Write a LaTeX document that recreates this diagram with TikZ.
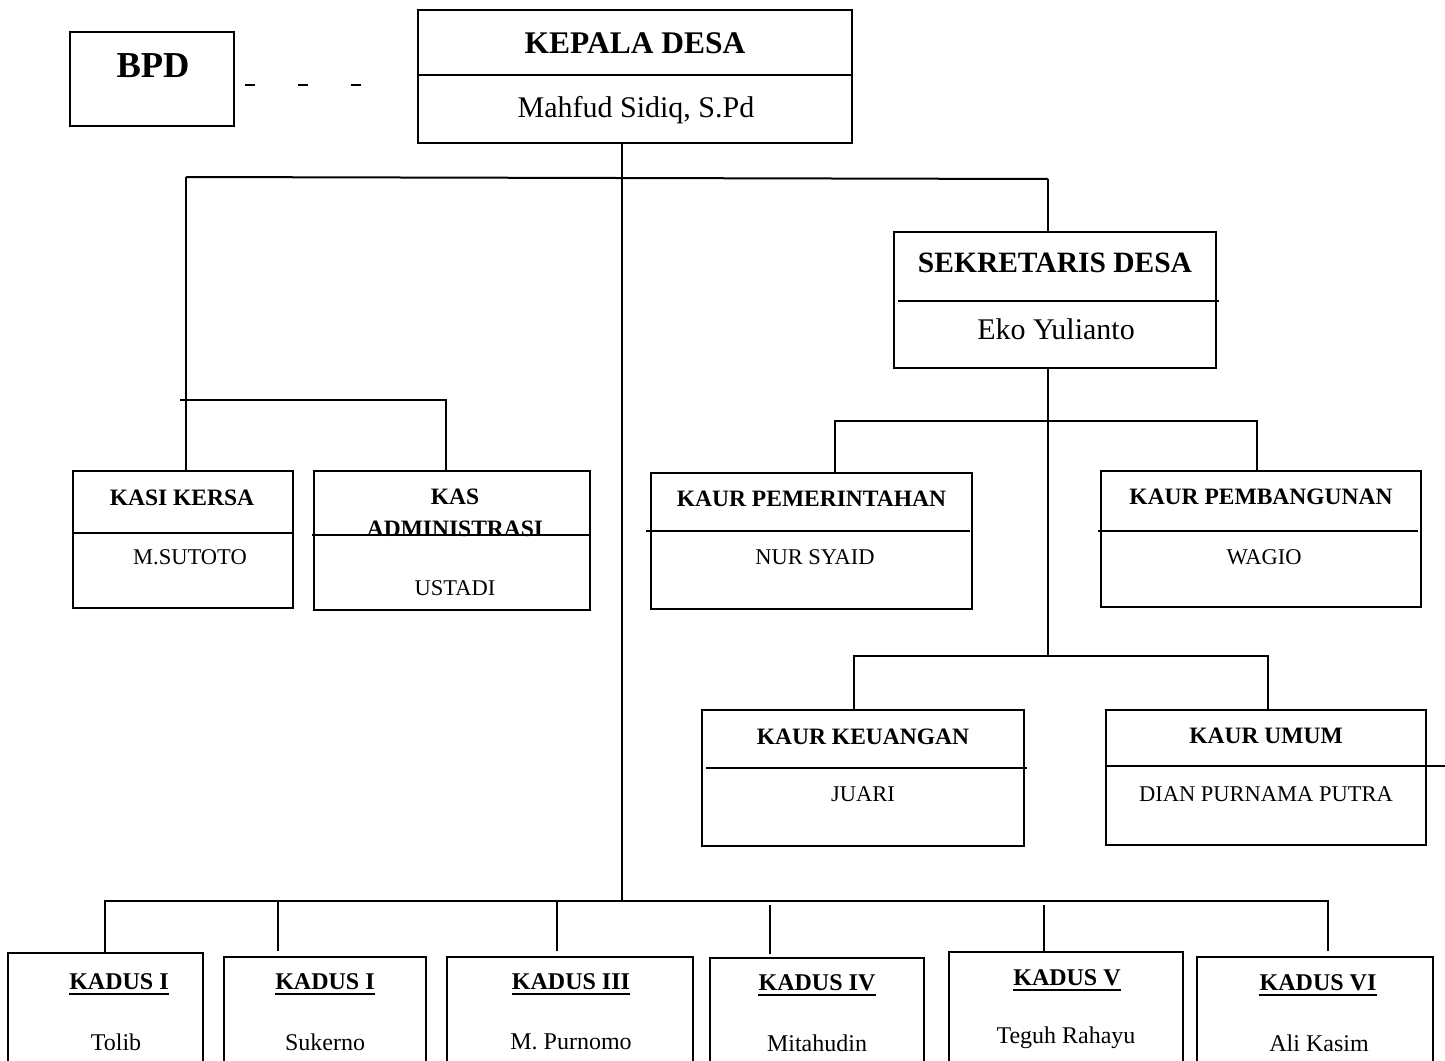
\documentclass[tikz,border=0pt]{standalone}
\usepackage{fontspec}
\setmainfont{Liberation Serif}
\tikzset{
  box/.style={draw, line width=2pt, rectangle, inner sep=0pt},
  conn/.style={line width=2pt},
  divline/.style={line width=2pt},
  bigttl/.style={inner sep=0pt, font=\bfseries\fontsize{31.5}{34}\selectfont},
  bigname/.style={inner sep=0pt, font=\fontsize{30}{33}\selectfont},
  midttl/.style={inner sep=0pt, font=\bfseries\fontsize{29.5}{32}\selectfont},
  midname/.style={inner sep=0pt, font=\fontsize{30}{33}\selectfont},
  ttl/.style={inner sep=0pt, font=\bfseries\fontsize{23.5}{26}\selectfont},
  nm/.style={inner sep=0pt, font=\fontsize{22.5}{25}\selectfont},
  kttl/.style={inner sep=0pt, font=\bfseries\fontsize{24}{27}\selectfont},
  knm/.style={inner sep=0pt, font=\fontsize{24}{27}\selectfont},
}
\begin{document}
\begin{tikzpicture}[x=1pt,y=-1pt]
\useasboundingbox (0,0) rectangle (1445,1060);
\clip (0,0) rectangle (1445,1060);

% ---- boxes ----
\node[box, minimum width=164pt, minimum height=94pt] (bpd) at (152,79) {};
\node[box, minimum width=434pt, minimum height=133pt] (kades) at (635,76.5) {};
\node[box, minimum width=322pt, minimum height=136pt] (sek) at (1055,300) {};
\node[box, minimum width=220pt, minimum height=137pt] (kasi) at (183,539.5) {};
\node[box, minimum width=276pt, minimum height=139pt] (kas) at (452,540.5) {};
\node[box, minimum width=321pt, minimum height=136pt] (pem) at (811.5,541) {};
\node[box, minimum width=320pt, minimum height=136pt] (pemb) at (1261,539) {};
\node[box, minimum width=322pt, minimum height=136pt] (keu) at (863,778) {};
\node[box, minimum width=320pt, minimum height=135pt] (umum) at (1266,777.5) {};
\node[box, minimum width=195pt, minimum height=127pt] (k1) at (105.5,1016.5) {};
\node[box, minimum width=202pt, minimum height=123pt] (k2) at (325,1018.5) {};
\node[box, minimum width=246pt, minimum height=123pt] (k3) at (570,1018.5) {};
\node[box, minimum width=214pt, minimum height=122pt] (k4) at (817,1019) {};
\node[box, minimum width=234pt, minimum height=128pt] (k5) at (1066,1016) {};
\node[box, minimum width=236pt, minimum height=123pt] (k6) at (1315,1018.5) {};

% ---- dividers ----
\draw[divline] (418,75) -- (852,75);
\draw[divline] (898,301) -- (1219,301);
\draw[divline] (73,533) -- (293,533);
\draw[divline] (312,535) -- (590,535);
\draw[divline] (646,531) -- (970,531);
\draw[divline] (1098,531) -- (1418,531);
\draw[divline] (706,768) -- (1027,768);
\draw[divline] (1106,766) -- (1445,766);

% ---- texts ----
\node[inner sep=0pt, font=\bfseries\fontsize{36.5}{40}\selectfont] (bpdt) at (153,66) {BPD};
\node[bigttl] (kadest) at (635,43) {KEPALA DESA};
\node[bigname] (kadesn) at (636,110) {Mahfud Sidiq, S.Pd};
\node[midttl] (sekt) at (1055,263) {SEKRETARIS DESA};
\node[midname] (sekn) at (1056,329) {Eko Yulianto};
\node[ttl] (kasit) at (182,498) {KASI KERSA};
\node[nm] (kasin) at (190,557) {M.SUTOTO};
\node[ttl] (kast1) at (455,497) {KAS};
\node[ttl] (kast2) at (455,529) {ADMINISTRASI};
\node[nm] (kasn) at (455,588) {USTADI};
\node[ttl] (pemt) at (811.5,499) {KAUR PEMERINTAHAN};
\node[nm] (pemn) at (815,557) {NUR SYAID};
\node[ttl] (pembt) at (1261,497) {KAUR PEMBANGUNAN};
\node[nm] (pembn) at (1264,557) {WAGIO};
\node[ttl] (keut) at (863,737) {KAUR KEUANGAN};
\node[nm] (keun) at (863,794) {JUARI};
\node[ttl] (umumt) at (1266,736) {KAUR UMUM};
\node[nm] (umumn) at (1266,794) {DIAN PURNAMA PUTRA};

\node[kttl] (k1t) at (119,982) {KADUS I};
\node[knm] (k1n) at (116,1042) {Tolib};
\node[kttl] (k2t) at (325,982) {KADUS I};
\node[knm] (k2n) at (325,1042) {Sukerno};
\node[kttl] (k3t) at (571,982) {KADUS III};
\node[knm] (k3n) at (571,1042) {M. Purnomo};
\node[kttl] (k4t) at (817,983) {KADUS IV};
\node[knm] (k4n) at (817,1043) {Mitahudin};
\node[kttl] (k5t) at (1067,978) {KADUS V};
\node[knm] (k5n) at (1066,1038) {Teguh Rahayu};
\node[kttl] (k6t) at (1318,983) {KADUS VI};
\node[knm] (k6n) at (1319,1043) {Ali Kasim};
\foreach \t in {k1t,k2t,k3t,k4t,k5t,k6t}{
  \draw[line width=2pt] ([yshift=-4pt]\t.base west) -- ([yshift=-4pt]\t.base east);
}

% ---- connectors ----
\coordinate (d1) at (245,85);
\coordinate (d2) at (361,85);
\draw[line width=1.6pt, dash pattern=on 10pt off 43pt] (d1) -- (d2);

\coordinate (tr) at (622,178);
\coordinate (bL) at (186,177);
\coordinate (bR) at (1048,179);
\coordinate (kb) at (622,901);
\draw[conn] (kades.south -| tr) -- (kb);
\draw[conn] (bL) -- (bR);
\draw[conn] (bL) -- (kasi.north -| bL);
\draw[conn] (bR) -- (sek.north -| bR);

\coordinate (b2L) at (180,400);
\coordinate (b2R) at (446,400);
\draw[conn] (b2L) -- (b2R) -- (kas.north -| b2R);

\coordinate (s1) at (1048,421);
\coordinate (s2) at (1048,656);
\draw[conn] (sek.south -| s1) -- (s2);
\coordinate (p1) at (835,421);
\coordinate (p2) at (1257,421);
\draw[conn] (pem.north -| p1) -- (p1) -- (p2) -- (pemb.north -| p2);
\coordinate (q1) at (854,656);
\coordinate (q2) at (1268,656);
\draw[conn] (keu.north -| q1) -- (q1) -- (q2) -- (umum.north -| q2);

\coordinate (kL) at (105,901);
\coordinate (kR) at (1328,901);
\draw[conn] (k1.north -| kL) -- (kL) -- (kR) -- ([yshift=5pt]k6.north -| kR);
\coordinate (e2) at (278,901);
\coordinate (e3) at (557,901);
\coordinate (e4) at (770,905);
\coordinate (e5) at (1044,905);
\draw[conn] (e2) -- ([yshift=5pt]k2.north -| e2);
\draw[conn] (e3) -- ([yshift=5pt]k3.north -| e3);
\draw[conn] (e4) -- ([yshift=3pt]k4.north -| e4);
\draw[conn] (e5) -- (k5.north -| e5);
\end{tikzpicture}
\end{document}
